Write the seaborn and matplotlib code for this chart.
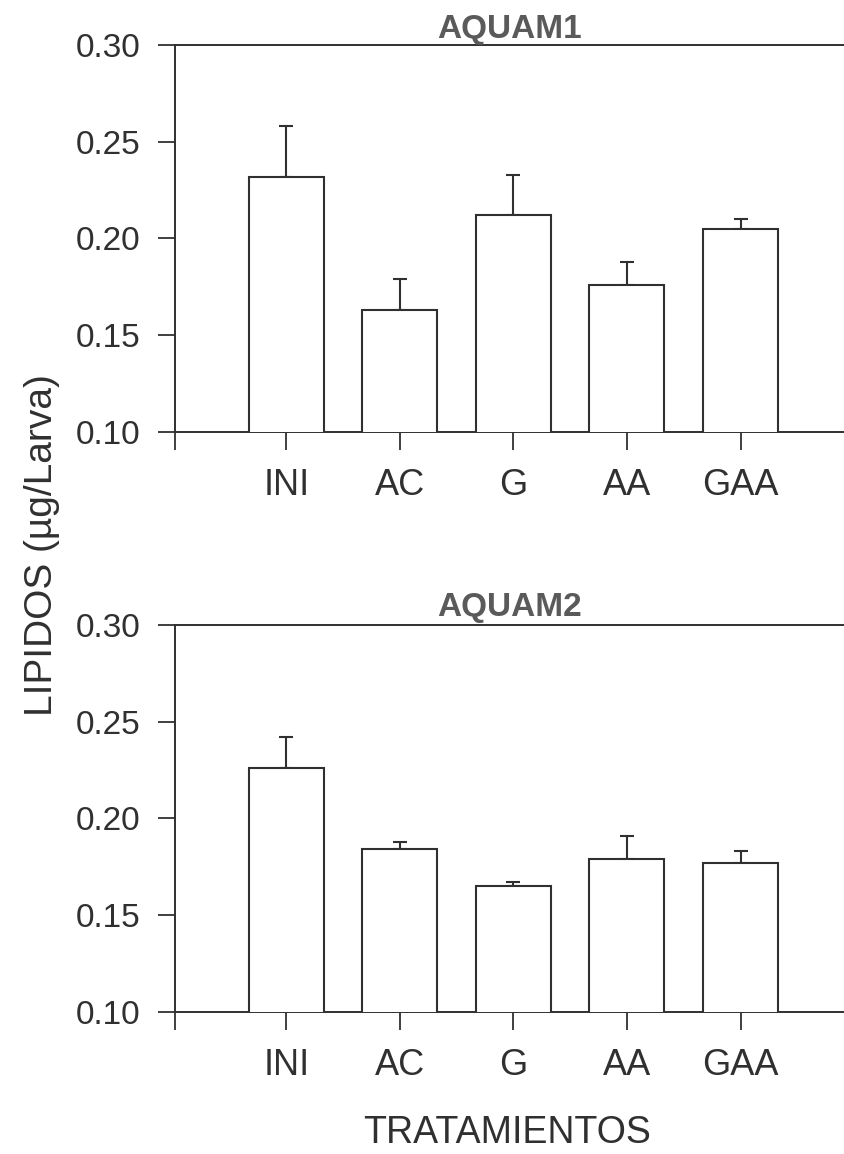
import numpy as np
import pandas as pd
import seaborn as sns
import matplotlib.pyplot as plt

# datos
tratamientos = ['INI', 'AC', 'G', 'AA', 'GAA']
aquam1_media = [0.232, 0.163, 0.212, 0.176, 0.205]
aquam1_err = [0.026, 0.016, 0.021, 0.012, 0.005]
aquam2_media = [0.226, 0.184, 0.165, 0.179, 0.177]
aquam2_err = [0.016, 0.004, 0.002, 0.012, 0.006]

sns.set_theme(style='ticks')
plt.rcParams['font.family'] = ['Liberation Sans', 'DejaVu Sans']

tinta = '#303030'
fig = plt.figure(figsize=(8.45, 11.54), dpi=100)
ax1 = fig.add_axes([0.207, 0.6256, 0.793, 0.3355])
ax2 = fig.add_axes([0.207, 0.1231, 0.793, 0.3355])

paneles = [(ax1, 'AQUAM1', aquam1_media, aquam1_err, 4),
           (ax2, 'AQUAM2', aquam2_media, aquam2_err, 6)]

for ax, titulo, media, err, pad_t in paneles:
    df = pd.DataFrame({'trat': tratamientos, 'lip': media})
    sns.barplot(data=df, x='trat', y='lip', ax=ax, color='white',
                edgecolor=tinta, linewidth=1.5, width=0.66, errorbar=None,
                saturation=1, zorder=3)
    pos = np.arange(len(tratamientos))
    ax.errorbar(pos, media, yerr=[np.zeros(len(err)), err], fmt='none',
                ecolor=tinta, elinewidth=1.5, capsize=5, capthick=1.5, zorder=2)
    ax.set_ylim(0.10, 0.30)
    ax.set_xlim(-0.98, 4.92)
    ax.set_yticks([0.10, 0.15, 0.20, 0.25, 0.30])
    ax.set_yticklabels(['0.10', '0.15', '0.20', '0.25', '0.30'])
    ax.set_xticks([-0.98] + list(pos))
    ax.set_xticklabels([''] + tratamientos)
    ax.tick_params(axis='y', length=12, width=1.3, pad=13, labelsize=24,
                   colors=tinta)
    ax.tick_params(axis='x', length=13, width=1.3, pad=13, labelsize=26,
                   colors=tinta)
    for lado in ['left', 'bottom', 'top']:
        ax.spines[lado].set_color(tinta)
        ax.spines[lado].set_linewidth(1.4)
    ax.spines['right'].set_visible(False)
    ax.set_xlabel('')
    ax.set_ylabel('')
    ax.set_title(titulo, fontsize=24, fontweight='bold', color='#5a5a5a',
                 pad=pad_t)

fig.text(0.05, 0.528, 'LIPIDOS (µg/Larva)', rotation=90, ha='center',
         va='center', fontsize=28, color=tinta)
fig.text(0.60, 0.003, 'TRATAMIENTOS', ha='center', va='bottom',
         fontsize=27, color=tinta)

plt.savefig('out.png', dpi=100)
